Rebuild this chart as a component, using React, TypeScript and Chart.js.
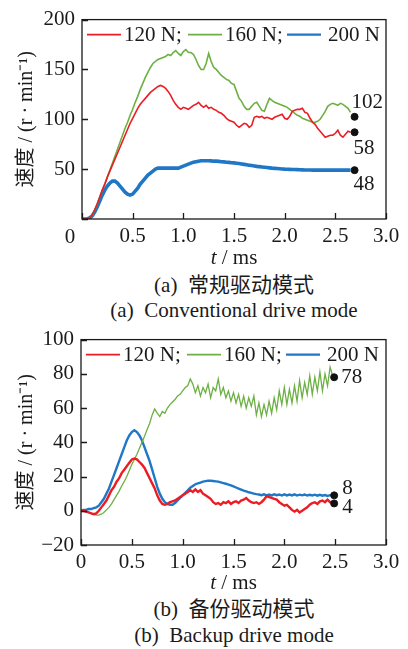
import React, { useEffect, useRef } from "react";
import { Chart, registerables } from "chart.js";
Chart.register(...registerables);

const FONT = '"Liberation Serif", "Noto Sans CJK SC", serif';
const INK = "#1a1a1a";
const FS = 21;

// ---------- shared ----------
const T_STEP = 0.025; // sampling interval of the recorded curves (ms)
const seriesNames = ["120 N;", "160 N;", "200 N"];
const seriesColors = ["#ec1c24", "#6cb044", "#2077c6"];
const xTickMin = 0;
const xTickMax = 3;
const xTickStep = 0.5;

// ---------- (a) conventional drive mode ----------
const conv120 = [0, 0, 0, 1, 4, 9, 15, 22, 29, 35, 42, 48, 54, 60, 66, 72, 78, 84, 90, 96,
  101, 106, 111, 115, 118, 121, 124, 127, 129, 131, 133, 134, 133, 131, 128, 124, 119, 115, 112, 110,
  112, 111, 110, 112, 114, 115, 117, 114, 112, 114, 111, 112, 110, 109, 107, 106, 104, 101, 99, 98,
  97, 94, 92, 94, 96, 95, 92, 94, 102, 103, 102, 103, 101, 102, 101, 100, 102, 103, 104, 105,
  101, 100, 103, 108, 109, 110, 110, 111, 107, 106, 101, 97, 95, 91, 88, 85, 82, 83, 84, 84,
  86, 89, 84, 82, 85, 88, 87];
const conv160 = [0, 0, 0, 1, 4, 9, 15, 22, 29, 35, 42, 49, 56, 63, 70, 77, 84, 91, 97, 104,
  110, 117, 123, 130, 136, 142, 147, 152, 156, 158, 160, 161, 162, 163, 165, 164, 167, 169, 166, 164,
  168, 170, 167, 167, 165, 160, 154, 150, 150, 156, 166, 158, 152, 150, 147, 144, 142, 140, 139, 136,
  135, 128, 121, 118, 113, 110, 110, 113, 116, 117, 113, 109, 108, 115, 121, 119, 117, 116, 115, 114,
  113, 112, 110, 108, 106, 104, 103, 101, 100, 99, 98, 97, 97, 98, 100, 104, 108, 113, 115, 116,
  115, 114, 116, 115, 113, 111, 107];
const conv200 = [0, 0, 0, 1, 3, 7, 12, 18, 24, 29, 33, 36, 38, 38, 36, 33, 30, 27, 25, 24,
  25, 28, 31, 35, 38, 41, 44, 46, 48, 50, 51, 51, 51, 51, 51, 51, 51, 51, 51, 52,
  53, 54, 55, 56, 57, 57.5, 58, 58.5, 58.5, 58.5, 58.5, 58.3, 58, 58, 57.8, 57.5, 57.3, 57, 56.8, 56.5,
  56.3, 56, 55.6, 55.2, 54.8, 54.4, 54, 53.6, 53.2, 52.8, 52.5, 52.2, 51.9, 51.6, 51.3, 51, 50.8, 50.6, 50.4, 50.2,
  50, 49.9, 49.8, 49.7, 49.6, 49.5, 49.4, 49.3, 49.2, 49.1, 49.1, 49, 49, 49, 49, 49, 49, 49, 49, 49,
  49, 49, 49, 49, 49, 49, 49];
const convEndT = 2.69;
const convEndValues = [102.5, 87, 49];
const convEndLabels = ["102", "58", "48"];
const convYTicks = { min: 0, max: 200, step: 50 };

// ---------- (b) backup drive mode ----------
const back120 = [0, 0, -0.5, -1, -1.5, -2, -1.5, 0, 2, 4, 6, 9, 12, 14, 17, 19, 22, 24, 26, 28,
  30, 30.5, 30, 28.5, 27, 25, 22, 19, 16, 13, 9, 6, 4, 3.5, 4, 5, 5.5, 6, 7, 8,
  9, 10, 11, 12, 11, 12.5, 11, 12, 10, 9, 8, 7, 5, 4, 4.5, 3.5, 5, 4.5, 5.5, 4,
  5, 5.5, 4.5, 6, 6.5, 7.5, 6, 5, 4.5, 5, 4, 5, 6.5, 8.5, 8, 7.5, 7, 6.5, 5, 4,
  3, 3.5, 2, 0.5, -0.5, 0.5, -1, 0, 1, 2, 3.5, 4.5, 5, 4, 5.5, 6, 5, 6.5, 5, 5];
const back160 = [0, 0, -0.5, -1, -1.5, -2, -2.5, -2.5, -2, -1, 0.5, 2, 4, 6.5, 9, 11.5, 14.5, 17, 20, 23.5,
  27, 30, 33, 36.5, 40, 43.5, 47.5, 51, 56, 59.5, 57, 55, 58, 57, 60, 62, 63.5, 65, 67, 68,
  70, 72, 73, 77, 74, 69, 73, 67, 72, 69, 74, 66, 72, 70, 77, 68, 72, 66, 70, 64,
  69, 63, 68, 61, 67, 60, 66, 61, 67, 56, 63, 55, 62, 56, 64, 57, 66, 59, 70, 62,
  72, 62, 71, 63, 73, 64, 76, 66, 75, 68, 79, 68, 78, 70, 81, 70, 80, 73, 84, 79];
const back200 = [0, 0.5, 0.5, 1, 1, 1.5, 2, 3, 5, 7, 10, 13, 17, 21, 25, 29, 33, 37, 41, 44,
  46, 47, 46, 44, 41, 37, 33, 29, 24, 19, 14, 10, 7, 5, 4, 3.5, 3.5, 4.5, 6, 7.5,
  9, 10.5, 12, 13.5, 14.5, 15.5, 16, 16.5, 17, 17.3, 17.5, 17.5, 17.4, 17.2, 17, 16.6, 16.2, 15.8, 15.3, 14.8,
  14.2, 13.6, 13, 12.4, 11.8, 11.3, 10.8, 10.4, 10, 9.7, 9.5, 9.1, 9.6, 9.0, 9.5, 9.0, 9.6, 9.1, 9.5, 8.9,
  9.6, 9.0, 9.5, 9.0, 9.6, 8.9, 9.4, 9.0, 9.5, 8.9, 9.3, 8.9, 9.4, 8.8, 9.3, 8.8, 9.2, 8.7, 9.1, 8.7];
const backEndT = 2.49;
const backEndValues = [78, 9, 4.3];
const backEndLabels = ["78", "8", "4"];
const backYTicks = { min: -20, max: 100, step: 20 };

const toPoints = (vals: number[]) => vals.map((v, i) => ({ x: +(i * T_STEP).toFixed(3), y: v }));

const decorPlugin = {
  id: "decor",
  afterDatasetsDraw(chart: any, _args: any, opts: any) {
    const ctx = chart.ctx;
    const a = chart.chartArea;
    const xs = chart.scales.x;
    const ys = chart.scales.y;
    ctx.save();
    // frame
    ctx.strokeStyle = INK;
    ctx.lineWidth = 1.3;
    ctx.strokeRect(a.left, a.top, a.right - a.left, a.bottom - a.top);
    // inward ticks
    ctx.beginPath();
    xs.ticks.forEach((t: any) => {
      const x = Math.round(xs.getPixelForValue(t.value)) + 0.5;
      ctx.moveTo(x, a.bottom);
      ctx.lineTo(x, a.bottom - 6);
    });
    ys.ticks.forEach((t: any) => {
      const y = Math.round(ys.getPixelForValue(t.value)) + 0.5;
      ctx.moveTo(a.left, y);
      ctx.lineTo(a.left + 6, y);
    });
    ctx.stroke();
    // legend inside the plot
    ctx.font = `${FS}px ${FONT}`;
    ctx.textBaseline = "middle";
    ctx.textAlign = "left";
    ctx.fillStyle = INK;
    const ly = a.top + opts.legendDy;
    opts.legendLineX.forEach((lx: number, i: number) => {
      const ds = chart.data.datasets[i];
      ctx.strokeStyle = ds.borderColor;
      ctx.lineWidth = opts.legendLineWidth[i];
      ctx.beginPath();
      ctx.moveTo(a.left + lx, ly);
      ctx.lineTo(a.left + lx + 34, ly);
      ctx.stroke();
      ctx.fillStyle = INK;
      ctx.fillText(ds.label, a.left + opts.legendTextX[i], ly + 1);
    });
    // end-value labels
    const dotsIndex = chart.data.datasets.length - 1;
    const meta = chart.getDatasetMeta(dotsIndex);
    meta.data.forEach((pt: any, i: number) => {
      const off = opts.endLabelOffsets[i];
      ctx.fillText(opts.endLabels[i], pt.x + off[0], pt.y + off[1]);
    });
    // corner zero
    if (opts.cornerZero) {
      ctx.textAlign = "center";
      ctx.fillText("0", a.left + opts.cornerZero[0], a.bottom + opts.cornerZero[1]);
      ctx.textAlign = "left";
    }
    // x title: italic t / ms
    const cx = (a.left + a.right) / 2;
    const ty = a.bottom + opts.xTitleDy;
    ctx.font = `italic ${FS}px ${FONT}`;
    const w1 = ctx.measureText("t").width;
    ctx.font = `${FS}px ${FONT}`;
    const rest = " / ms";
    const w2 = ctx.measureText(rest).width;
    const sx = cx - (w1 + w2) / 2;
    ctx.font = `italic ${FS}px ${FONT}`;
    ctx.fillText("t", sx, ty);
    ctx.font = `${FS}px ${FONT}`;
    ctx.fillText(rest, sx + w1, ty);
    ctx.restore();
  },
};

type Spec = {
  series: number[][];
  lineWidths: number[];
  yTicks: { min: number; max: number; step: number };
  hideZeroY: boolean;
  hideZeroX: boolean;
  endT: number;
  endValues: number[];
  endLabels: string[];
  endLabelOffsets: number[][];
  area: { left: number; right: number; top: number; bottom: number };
  height: number;
  cornerZero: number[] | null;
  xTitleDy: number;
};

function ChartPanel({ spec, top }: { spec: Spec; top: number }) {
  const ref = useRef<HTMLCanvasElement>(null);
  useEffect(() => {
    if (!ref.current) return;
    const datasets: any[] = spec.series.map((vals, i) => ({
      type: "line",
      label: seriesNames[i],
      data: toPoints(vals),
      borderColor: seriesColors[i],
      backgroundColor: seriesColors[i],
      borderWidth: spec.lineWidths[i],
      pointRadius: 0,
      tension: 0,
      fill: false,
    }));
    datasets.push({
      type: "scatter",
      label: "",
      data: spec.endValues.map((v) => ({ x: spec.endT, y: v })),
      backgroundColor: "#111",
      borderColor: "#111",
      pointRadius: 3.5,
      showLine: false,
      order: -1,
    });
    const chart = new Chart(ref.current, {
      type: "line",
      data: { datasets },
      options: {
        responsive: false,
        animation: false,
        devicePixelRatio: 1,
        layout: { padding: { top: spec.area.top, right: 408 - spec.area.right, left: 0, bottom: 0 } },
        plugins: {
          legend: { display: false },
          tooltip: { enabled: false },
          decor: {
            legendDy: 15,
            legendLineX: [5, 106, 205],
            legendTextX: [42, 143, 246],
            legendLineWidth: [1.8, 1.8, 2.4],
            endLabels: spec.endLabels,
            endLabelOffsets: spec.endLabelOffsets,
            cornerZero: spec.cornerZero,
            xTitleDy: spec.xTitleDy,
          },
        } as any,
        scales: {
          x: {
            type: "linear",
            min: xTickMin,
            max: xTickMax,
            grid: { display: false, drawTicks: false },
            border: { display: false },
            ticks: {
              stepSize: xTickStep,
              autoSkip: false,
              maxRotation: 0,
              padding: 5,
              color: INK,
              font: { family: FONT, size: FS },
              callback: (v: any) => {
                const n = Number(v);
                if (n === 0) return spec.hideZeroX ? "" : "0";
                return n.toFixed(1);
              },
            },
            afterFit: (s: any) => {
              s.height = spec.height - spec.area.bottom;
            },
          },
          y: {
            min: spec.yTicks.min,
            max: spec.yTicks.max,
            grid: { display: false, drawTicks: false },
            border: { display: false },
            ticks: {
              stepSize: spec.yTicks.step,
              padding: 7,
              color: INK,
              font: { family: FONT, size: FS },
              callback: (v: any) => {
                const n = Number(v);
                if (n === 0 && spec.hideZeroY) return "";
                return n < 0 ? "\u2212" + Math.abs(n) : String(n);
              },
            },
            title: {
              display: true,
              text: "速度 / (r · min⁻¹)",
              color: INK,
              font: { family: FONT, size: 20 },
              padding: { top: 15, bottom: 0 },
            },
            afterFit: (s: any) => {
              s.width = spec.area.left;
            },
          },
        },
      },
      plugins: [decorPlugin as any],
    });
    return () => chart.destroy();
  }, [spec]);
  return (
    <canvas
      ref={ref}
      width={408}
      height={spec.height}
      style={{ position: "absolute", left: 0, top, width: 408, height: spec.height }}
    />
  );
}

const convSpec: Spec = {
  series: [conv120, conv160, conv200],
  lineWidths: [1.6, 1.6, 3.6],
  yTicks: convYTicks,
  hideZeroY: true,
  hideZeroX: true,
  endT: convEndT,
  endValues: convEndValues,
  endLabels: convEndLabels,
  endLabelOffsets: [[-3, -14.5], [-1, 16], [-1, 14.5]],
  area: { left: 82, right: 386, top: 14, bottom: 219 },
  height: 272,
  cornerZero: [-12, 18],
  xTitleDy: 39,
};

const backSpec: Spec = {
  series: [back120, back160, back200],
  lineWidths: [2.4, 1.3, 2.4],
  yTicks: backYTicks,
  hideZeroY: false,
  hideZeroX: false,
  endT: backEndT,
  endValues: backEndValues,
  endLabels: backEndLabels,
  endLabelOffsets: [[7, 0], [8, -7], [8, 4]],
  area: { left: 81, right: 386, top: 19, bottom: 225 },
  height: 276,
  cornerZero: null,
  xTitleDy: 38,
};

function Caption({ top, text }: { top: number; text: string }) {
  return (
    <div
      style={{
        position: "absolute",
        top,
        left: 234,
        transform: "translateX(-50%)",
        whiteSpace: "pre",
        fontFamily: FONT,
        fontSize: FS,
        lineHeight: "24px",
        color: INK,
      }}
    >
      {text}
    </div>
  );
}

export default function App() {
  return (
    <div style={{ position: "absolute", left: 0, top: 0, width: 408, height: 649, background: "#fff" }}>
      <ChartPanel spec={convSpec} top={0} />
      <Caption top={273} text="(a)  常规驱动模式" />
      <Caption top={298} text="(a)  Conventional drive mode" />
      <ChartPanel spec={backSpec} top={320} />
      <Caption top={597} text="(b)  备份驱动模式" />
      <Caption top={623} text="(b)  Backup drive mode" />
    </div>
  );
}
